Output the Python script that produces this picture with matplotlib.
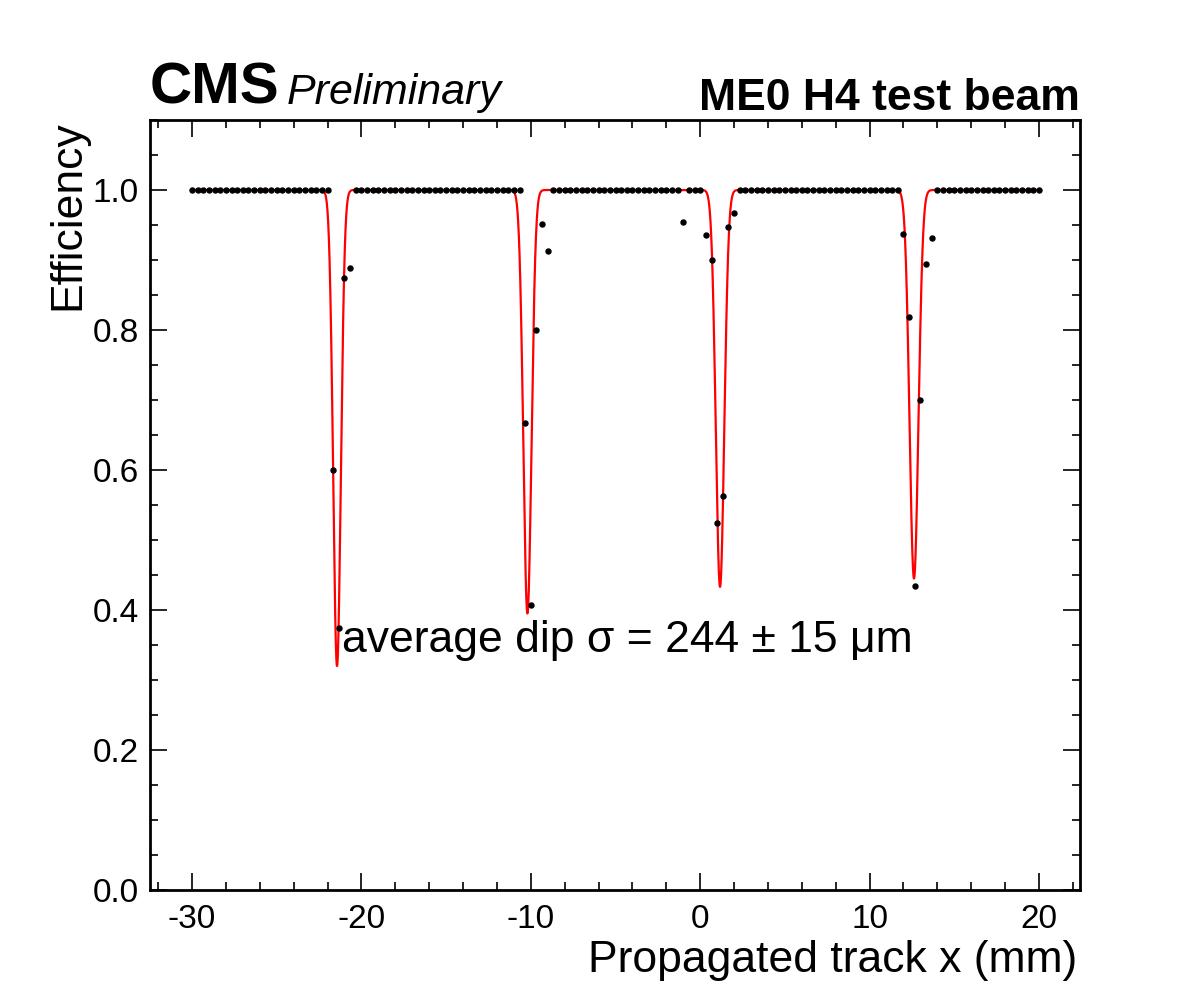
import numpy as np
import matplotlib
matplotlib.use("Agg")
import matplotlib.pyplot as plt
from matplotlib.ticker import MultipleLocator

plt.rcParams['font.family'] = ['Liberation Sans', 'DejaVu Sans']
plt.rcParams['axes.unicode_minus'] = False

# track position bins (1/3 mm steps from -30 to 20 mm)
track_x = [-30 + k / 3.0 for k in range(151)]

efficiency = [
    1.0, 1.0, 1.0, 1.0, 1.0, 1.0, 1.0, 1.0, 1.0, 1.0, 1.0, 1.0, 1.0, 1.0, 1.0,
    1.0, 1.0, 1.0, 1.0, 1.0, 1.0, 1.0, 1.0, 1.0, 1.0, 0.600, 0.374, 0.874, 0.888, 1.0,
    1.0, 1.0, 1.0, 1.0, 1.0, 1.0, 1.0, 1.0, 1.0, 1.0, 1.0, 1.0, 1.0, 1.0, 1.0,
    1.0, 1.0, 1.0, 1.0, 1.0, 1.0, 1.0, 1.0, 1.0, 1.0, 1.0, 1.0, 1.0, 1.0, 0.667,
    0.407, 0.800, 0.952, 0.913, 1.0, 1.0, 1.0, 1.0, 1.0, 1.0, 1.0, 1.0, 1.0, 1.0, 1.0,
    1.0, 1.0, 1.0, 1.0, 1.0, 1.0, 1.0, 1.0, 1.0, 1.0, 1.0, 1.0, 0.954, 1.0, 1.0,
    1.0, 0.936, 0.900, 0.524, 0.563, 0.947, 0.967, 1.0, 1.0, 1.0, 1.0, 1.0, 1.0, 1.0, 1.0,
    1.0, 1.0, 1.0, 1.0, 1.0, 1.0, 1.0, 1.0, 1.0, 1.0, 1.0, 1.0, 1.0, 1.0, 1.0,
    1.0, 1.0, 1.0, 1.0, 1.0, 1.0, 0.937, 0.819, 0.434, 0.700, 0.894, 0.932, 1.0, 1.0, 1.0,
    1.0, 1.0, 1.0, 1.0, 1.0, 1.0, 1.0, 1.0, 1.0, 1.0, 1.0, 1.0, 1.0, 1.0, 1.0,
    1.0,
]

# fit: 1 - sum of gaussian dips
dip_mean = [-21.44, -10.20, 1.17, 12.62]
dip_depth = [0.680, 0.605, 0.567, 0.555]
dip_sigma = [0.225, 0.240, 0.250, 0.260]

fit_x = np.linspace(track_x[0], track_x[-1], 5000)
fit_y = np.ones_like(fit_x)
for mu, a, s in zip(dip_mean, dip_depth, dip_sigma):
    fit_y -= a * np.exp(-0.5 * ((fit_x - mu) / s) ** 2)

fig = plt.figure(figsize=(12, 10), dpi=100)
ax = fig.add_axes([0.125, 0.11, 0.775, 0.77])

ax.plot(fit_x, fit_y, c='#ff0000', lw=1.6, zorder=2)
ax.plot(track_x, efficiency, 'o', c='k', ms=3.6, zorder=3)

ax.set_xlim(-32.48, 22.42)
ax.set_ylim(0, 1.1)

ax.xaxis.set_major_locator(MultipleLocator(10))
ax.xaxis.set_minor_locator(MultipleLocator(2))
ax.yaxis.set_major_locator(MultipleLocator(0.2))
ax.yaxis.set_minor_locator(MultipleLocator(0.05))
ax.yaxis.set_major_formatter(matplotlib.ticker.FormatStrFormatter('%.1f'))

ax.tick_params(which='both', direction='in', top=True, right=True, width=1.2,
               labelsize=24)
ax.tick_params(which='major', length=12, pad=8)
ax.tick_params(which='minor', length=6)
ax.tick_params(axis='x', pad=10)
for sp in ax.spines.values():
    sp.set_linewidth(2.0)

ax.text(0.2065, 0.309, u'average dip \u03c3 = 244 \u00b1 15 \u03bcm',
        transform=ax.transAxes, fontsize=32, ha='left', va='baseline')

fig.text(68 / 1200., 0.88, 'Efficiency', rotation=90, fontsize=32,
         ha='center', va='top')
fig.text(0.898, 1 - 972 / 1000., 'Propagated track x (mm)', fontsize=32,
         ha='right', va='baseline')

fig.text(0.125, 0.896, 'CMS', fontsize=42, fontweight='bold',
         ha='left', va='baseline')
fig.text(0.239, 0.896, 'Preliminary', fontsize=31, fontstyle='italic',
         ha='left', va='baseline')
fig.text(0.9, 0.89, 'ME0 H4 test beam', fontsize=32, fontweight='bold',
         ha='right', va='baseline')

fig.savefig('out.png', dpi=100)
